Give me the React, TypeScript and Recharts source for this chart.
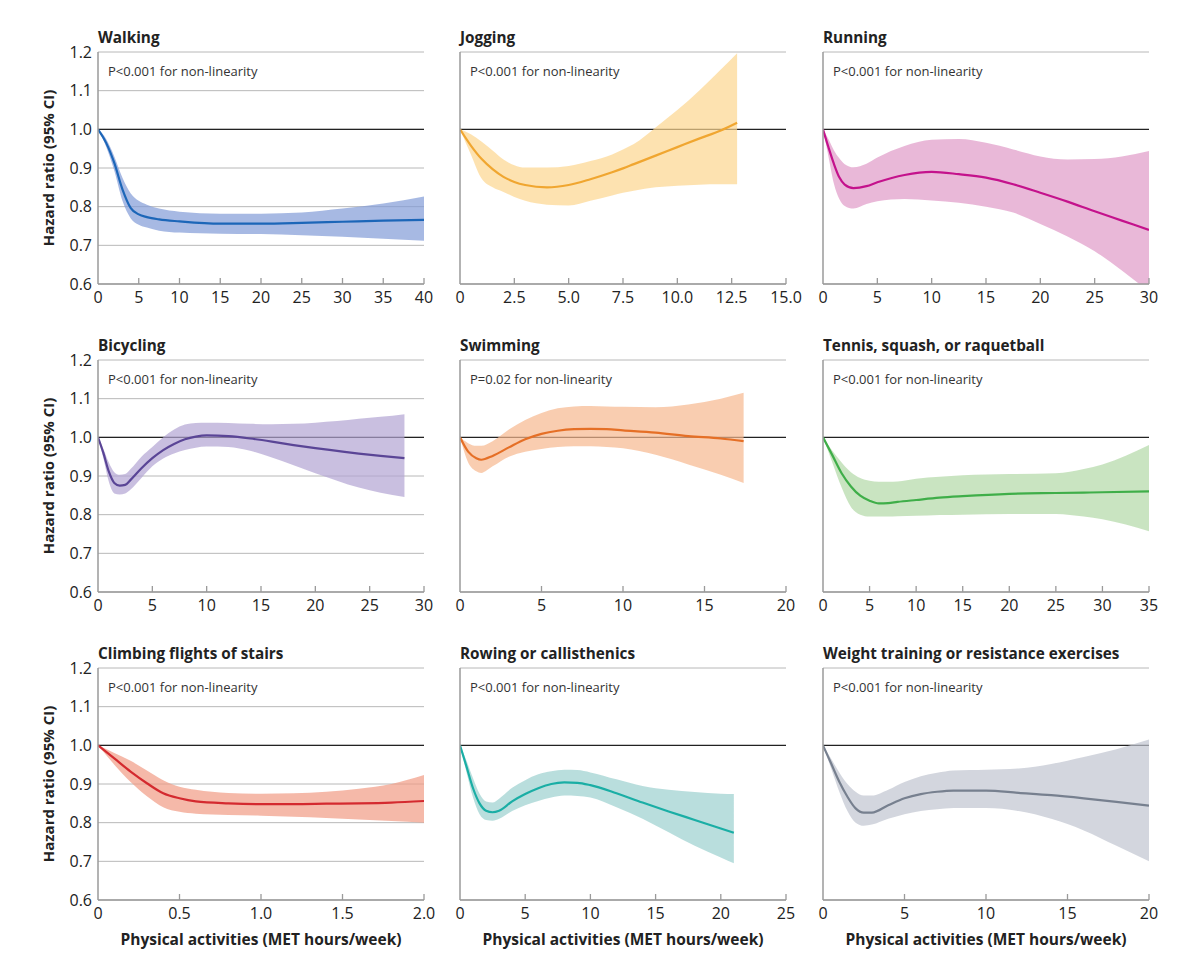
import { Area, CartesianGrid, ComposedChart, Line, ReferenceLine, XAxis, YAxis } from 'recharts'

// Hazard ratio curves (x = MET hours/week)
const walkingX = [0, 1, 2, 3, 4, 5, 6, 7.5, 10, 15, 20, 25, 30, 35, 40]
const walkingHR = [1.0, 0.965, 0.913, 0.845, 0.797, 0.78, 0.773, 0.767, 0.762, 0.756, 0.756, 0.758, 0.761, 0.764, 0.766]
const walkingHi = [1.0, 0.975, 0.93, 0.875, 0.835, 0.815, 0.805, 0.795, 0.787, 0.782, 0.782, 0.785, 0.795, 0.808, 0.826]
const walkingLo = [1.0, 0.955, 0.893, 0.815, 0.77, 0.753, 0.746, 0.738, 0.733, 0.73, 0.729, 0.726, 0.722, 0.717, 0.712]

const joggingX = [0, 0.5, 1, 1.5, 2, 2.5, 3, 4, 5, 6, 7, 7.5, 8, 9, 10, 11, 12, 12.75]
const joggingHR = [1.0, 0.958, 0.923, 0.897, 0.877, 0.864, 0.856, 0.85, 0.856, 0.871, 0.889, 0.899, 0.91, 0.932, 0.954, 0.976, 0.997, 1.017]
const joggingHi = [1.0, 0.987, 0.968, 0.945, 0.922, 0.907, 0.901, 0.901, 0.905, 0.918, 0.935, 0.948, 0.962, 1.005, 1.05, 1.1, 1.155, 1.197]
const joggingLo = [1.0, 0.935, 0.872, 0.85, 0.838, 0.825, 0.815, 0.805, 0.803, 0.815, 0.829, 0.836, 0.841, 0.85, 0.854, 0.857, 0.858, 0.858]

const runningX = [0, 0.5, 1, 1.5, 2, 2.8, 4, 5, 7.5, 10, 12.5, 15, 17.5, 20, 22.5, 25, 27.5, 30]
const runningHR = [1.0, 0.954, 0.911, 0.876, 0.857, 0.848, 0.853, 0.863, 0.882, 0.89, 0.884, 0.875, 0.858, 0.836, 0.813, 0.788, 0.764, 0.74]
const runningHi = [1.0, 0.975, 0.946, 0.925, 0.91, 0.902, 0.911, 0.927, 0.957, 0.973, 0.975, 0.965, 0.948, 0.93, 0.922, 0.923, 0.93, 0.944]
const runningLo = [1.0, 0.93, 0.86, 0.82, 0.802, 0.795, 0.807, 0.814, 0.82, 0.816, 0.81, 0.8, 0.785, 0.755, 0.723, 0.685, 0.635, 0.58]

const bicyclingX = [0, 0.5, 1, 1.5, 2, 2.5, 3, 4, 5, 6, 7, 8, 9, 10, 12, 14, 16, 18, 20, 22, 24, 26, 28.2]
const bicyclingHR = [1.0, 0.959, 0.911, 0.882, 0.875, 0.877, 0.89, 0.92, 0.946, 0.967, 0.983, 0.995, 1.002, 1.005, 1.003, 0.997, 0.989, 0.98, 0.972, 0.965, 0.958, 0.952, 0.946]
const bicyclingHi = [1.0, 0.97, 0.935, 0.91, 0.903, 0.905, 0.918, 0.95, 0.975, 1.0, 1.02, 1.033, 1.037, 1.038, 1.037, 1.035, 1.034, 1.035, 1.038, 1.042, 1.048, 1.053, 1.06]
const bicyclingLo = [1.0, 0.945, 0.885, 0.855, 0.852, 0.855, 0.865, 0.895, 0.925, 0.945, 0.958, 0.967, 0.973, 0.976, 0.975, 0.965, 0.948, 0.928, 0.907, 0.888, 0.87, 0.857, 0.846]

const swimmingX = [0, 0.5, 1, 1.3, 2, 3, 4, 5, 6, 7, 8, 9, 10, 12, 14, 16, 17.4]
const swimmingHR = [1.0, 0.963, 0.946, 0.942, 0.952, 0.974, 0.995, 1.009, 1.017, 1.021, 1.022, 1.021, 1.018, 1.012, 1.003, 0.997, 0.99]
const swimmingHi = [1.0, 0.985, 0.978, 0.978, 0.99, 1.02, 1.045, 1.063, 1.075, 1.08, 1.081, 1.08, 1.079, 1.078, 1.085, 1.1, 1.115]
const swimmingLo = [1.0, 0.935, 0.912, 0.908, 0.925, 0.95, 0.963, 0.97, 0.975, 0.977, 0.977, 0.975, 0.972, 0.955, 0.93, 0.903, 0.882]

const tennisX = [0, 1, 2, 3, 4, 5, 6, 7, 8, 10, 12.5, 15, 20, 25, 28, 30, 35]
const tennisHR = [1.0, 0.954, 0.907, 0.873, 0.849, 0.836, 0.829, 0.83, 0.833, 0.838, 0.844, 0.848, 0.854, 0.856, 0.857, 0.858, 0.86]
const tennisHi = [1.0, 0.965, 0.935, 0.91, 0.895, 0.888, 0.885, 0.885, 0.886, 0.893, 0.898, 0.902, 0.905, 0.907, 0.918, 0.93, 0.98]
const tennisLo = [1.0, 0.935, 0.87, 0.82, 0.8, 0.795, 0.795, 0.795, 0.796, 0.797, 0.799, 0.8, 0.802, 0.802, 0.795, 0.788, 0.757]

const stairsX = [0, 0.1, 0.2, 0.3, 0.4, 0.5, 0.6, 0.8, 1.0, 1.2, 1.4, 1.6, 1.8, 2.0]
const stairsHR = [1.0, 0.966, 0.932, 0.902, 0.876, 0.863, 0.855, 0.85, 0.848, 0.848, 0.849, 0.85, 0.852, 0.856]
const stairsHi = [1.0, 0.98, 0.96, 0.935, 0.91, 0.893, 0.885, 0.877, 0.875, 0.876, 0.88, 0.888, 0.9, 0.923]
const stairsLo = [1.0, 0.95, 0.905, 0.868, 0.84, 0.828, 0.823, 0.82, 0.818, 0.815, 0.812, 0.808, 0.804, 0.8]

const rowingX = [0, 0.5, 1, 1.5, 2, 2.5, 3, 4, 5, 6, 7, 8, 9, 10, 12, 14, 16, 18, 20, 21]
const rowingHR = [1.0, 0.945, 0.889, 0.85, 0.831, 0.827, 0.831, 0.855, 0.874, 0.889, 0.9, 0.904, 0.903, 0.897, 0.876, 0.852, 0.829, 0.807, 0.785, 0.774]
const rowingHi = [1.0, 0.96, 0.915, 0.875, 0.855, 0.852, 0.862, 0.89, 0.91, 0.925, 0.933, 0.937, 0.936, 0.93, 0.912, 0.895, 0.885, 0.879, 0.875, 0.874]
const rowingLo = [1.0, 0.93, 0.865, 0.822, 0.807, 0.805, 0.81, 0.83, 0.845, 0.856, 0.865, 0.87, 0.869, 0.865, 0.84, 0.81, 0.775, 0.74, 0.71, 0.695]

const weightX = [0, 0.5, 1, 1.5, 2, 2.5, 3, 4, 5, 6, 7, 8, 9, 10, 12, 14, 16, 18, 20]
const weightHR = [1.0, 0.953, 0.906, 0.867, 0.837, 0.826, 0.826, 0.845, 0.863, 0.874, 0.88, 0.883, 0.883, 0.883, 0.877, 0.871, 0.863, 0.854, 0.844]
const weightHi = [1.0, 0.965, 0.93, 0.9, 0.88, 0.87, 0.87, 0.885, 0.905, 0.92, 0.929, 0.935, 0.936, 0.937, 0.94, 0.952, 0.97, 0.99, 1.015]
const weightLo = [1.0, 0.94, 0.88, 0.83, 0.8, 0.792, 0.795, 0.81, 0.822, 0.83, 0.835, 0.838, 0.838, 0.838, 0.83, 0.81, 0.78, 0.74, 0.7]

// axis ticks
const yTicks = [0.6, 0.7, 0.8, 0.9, 1.0, 1.1, 1.2]
const yTickLabels = ['0.6', '0.7', '0.8', '0.9', '1.0', '1.1', '1.2']
const ticks40 = [0, 5, 10, 15, 20, 25, 30, 35, 40]
const ticks35 = [0, 5, 10, 15, 20, 25, 30, 35]
const ticks30 = [0, 5, 10, 15, 20, 25, 30]
const ticks25 = [0, 5, 10, 15, 20, 25]
const ticks20 = [0, 5, 10, 15, 20]
const joggingTicks = [0, 2.5, 5, 7.5, 10, 12.5, 15]
const joggingTickLabels = ['0', '2.5', '5.0', '7.5', '10.0', '12.5', '15.0']
const stairsTicks = [0, 0.5, 1, 1.5, 2]
const stairsTickLabels = ['0', '0.5', '1.0', '1.5', '2.0']

const FONT = '"Open Sans", sans-serif'
const AXIS = '#9a9a9a'
const GRID = '#b8b8b8'
const TEXT = '#222'
const PLOT_W = 326
const PLOT_H = 232
const colLeft = [98, 460, 823]
const rowTop = [52, 360, 668]

type Panel = {
  title: string
  note: string
  x: number[]
  hr: number[]
  lo: number[]
  hi: number[]
  ticks: number[]
  labels?: string[]
  line: string
  band: string
}

const panels: Panel[] = [
  { title: 'Walking', note: 'P<0.001 for non-linearity', x: walkingX, hr: walkingHR, lo: walkingLo, hi: walkingHi, ticks: ticks40, line: '#1c66b8', band: '#829bd7' },
  { title: 'Jogging', note: 'P<0.001 for non-linearity', x: joggingX, hr: joggingHR, lo: joggingLo, hi: joggingHi, ticks: joggingTicks, labels: joggingTickLabels, line: '#f0a630', band: '#fcd58f' },
  { title: 'Running', note: 'P<0.001 for non-linearity', x: runningX, hr: runningHR, lo: runningLo, hi: runningHi, ticks: ticks30, line: '#c4128c', band: '#e09ac7' },
  { title: 'Bicycling', note: 'P<0.001 for non-linearity', x: bicyclingX, hr: bicyclingHR, lo: bicyclingLo, hi: bicyclingHi, ticks: ticks30, line: '#5a4596', band: '#b2a4d3' },
  { title: 'Swimming', note: 'P=0.02 for non-linearity', x: swimmingX, hr: swimmingHR, lo: swimmingLo, hi: swimmingHi, ticks: ticks20, line: '#e56f26', band: '#f6b88e' },
  { title: 'Tennis, squash, or raquetball', note: 'P<0.001 for non-linearity', x: tennisX, hr: tennisHR, lo: tennisLo, hi: tennisHi, ticks: ticks35, line: '#3fae49', band: '#b2d8a6' },
  { title: 'Climbing flights of stairs', note: 'P<0.001 for non-linearity', x: stairsX, hr: stairsHR, lo: stairsLo, hi: stairsHi, ticks: stairsTicks, labels: stairsTickLabels, line: '#d42a2f', band: '#f19b84' },
  { title: 'Rowing or callisthenics', note: 'P<0.001 for non-linearity', x: rowingX, hr: rowingHR, lo: rowingLo, hi: rowingHi, ticks: ticks25, line: '#1aaea5', band: '#9bd0ce' },
  { title: 'Weight training or resistance exercises', note: 'P<0.001 for non-linearity', x: weightX, hr: weightHR, lo: weightLo, hi: weightHi, ticks: ticks20, line: '#77808f', band: '#c0c4d0' },
]

function labelFor(ticks: number[], labels: string[] | undefined, v: number) {
  const i = ticks.findIndex((t) => Math.abs(t - v) < 1e-9)
  if (labels && i >= 0) return labels[i]
  return String(v)
}

function XTick(props: any) {
  const { x, y, payload, ticks, labels } = props
  const v = payload.value
  return (
    <g>
      {v !== 0 && <line x1={x} x2={x} y1={y} y2={y - 6} stroke={AXIS} strokeWidth={1.3} />}
      <text x={x} y={y + 19} textAnchor="middle" fontSize={16} fill={TEXT} fontFamily={FONT}>
        {labelFor(ticks, labels, v)}
      </text>
    </g>
  )
}

function PanelChart({ panel, showY }: { panel: Panel; showY: boolean }) {
  const data = panel.x.map((v, i) => ({ x: v, hr: panel.hr[i], band: [panel.lo[i], panel.hi[i]] }))
  const xMax = panel.ticks[panel.ticks.length - 1]
  return (
    <ComposedChart width={PLOT_W + 84} height={PLOT_H + 40} data={data} margin={{ top: 10, right: 24, left: 0, bottom: 0 }}>
      <CartesianGrid vertical={false} stroke={GRID} />
      <XAxis
        type="number"
        dataKey="x"
        domain={[0, xMax]}
        ticks={panel.ticks}
        interval={0}
        height={30}
        tickSize={0}
        tickMargin={0}
        tickLine={false}
        axisLine={{ stroke: AXIS, strokeWidth: 1.5 }}
        tick={(p: any) => <XTick {...p} ticks={panel.ticks} labels={panel.labels} />}
        allowDataOverflow
      />
      <YAxis
        type="number"
        domain={[0.6, 1.2]}
        ticks={yTicks}
        interval={0}
        width={60}
        tickSize={0}
        tickMargin={6}
        tickLine={false}
        axisLine={{ stroke: AXIS, strokeWidth: 1.5 }}
        tick={showY ? { fontSize: 16, fill: TEXT, fontFamily: FONT } : false}
        tickFormatter={(v: number) => labelFor(yTicks, yTickLabels, v)}
        allowDataOverflow
      />
      {/* keep the 1.0 line under the band, as in the figure */}
      <ReferenceLine y={1} stroke="#222" strokeWidth={1.3} zIndex={50} />
      <Area type="monotone" dataKey="band" stroke="none" fill={panel.band} fillOpacity={0.7} isAnimationActive={false} />
      <Line type="monotone" dataKey="hr" stroke={panel.line} strokeWidth={2.2} dot={false} activeDot={false} isAnimationActive={false} />
    </ComposedChart>
  )
}

export default function App() {
  return (
    <div style={{ position: 'absolute', left: 0, top: 0, width: 1200, height: 963, background: '#fff', fontFamily: FONT, color: TEXT }}>
      {panels.map((panel, i) => {
        const col = i % 3
        const row = Math.floor(i / 3)
        const left = colLeft[col]
        const top = rowTop[row]
        return (
          <div key={panel.title}>
            <div style={{ position: 'absolute', left: left - 60, top: top - 10 }}>
              <PanelChart panel={panel} showY={col === 0} />
            </div>
            <div style={{ position: 'absolute', left, top: top - 25, fontSize: 15.3, fontWeight: 700, lineHeight: '20px', whiteSpace: 'nowrap' }}>
              {panel.title}
            </div>
            <div style={{ position: 'absolute', left: left + 10, top: top + 10, fontSize: 13, lineHeight: '18px', color: '#333', whiteSpace: 'nowrap' }}>
              {panel.note}
            </div>
            {col === 0 && (
              <div
                style={{
                  position: 'absolute',
                  left: 48 - 110,
                  top: top + PLOT_H / 2 - 10,
                  width: 220,
                  height: 20,
                  lineHeight: '20px',
                  textAlign: 'center',
                  fontSize: 15,
                  fontWeight: 700,
                  transform: 'rotate(-90deg)',
                  whiteSpace: 'nowrap',
                }}
              >
                Hazard ratio (95% CI)
              </div>
            )}
            {row === 2 && (
              <div
                style={{
                  position: 'absolute',
                  left: left - 40,
                  top: 929,
                  width: PLOT_W + 80,
                  textAlign: 'center',
                  fontSize: 15.5,
                  fontWeight: 700,
                  lineHeight: '20px',
                  whiteSpace: 'nowrap',
                }}
              >
                Physical activities (MET hours/week)
              </div>
            )}
          </div>
        )
      })}
    </div>
  )
}
